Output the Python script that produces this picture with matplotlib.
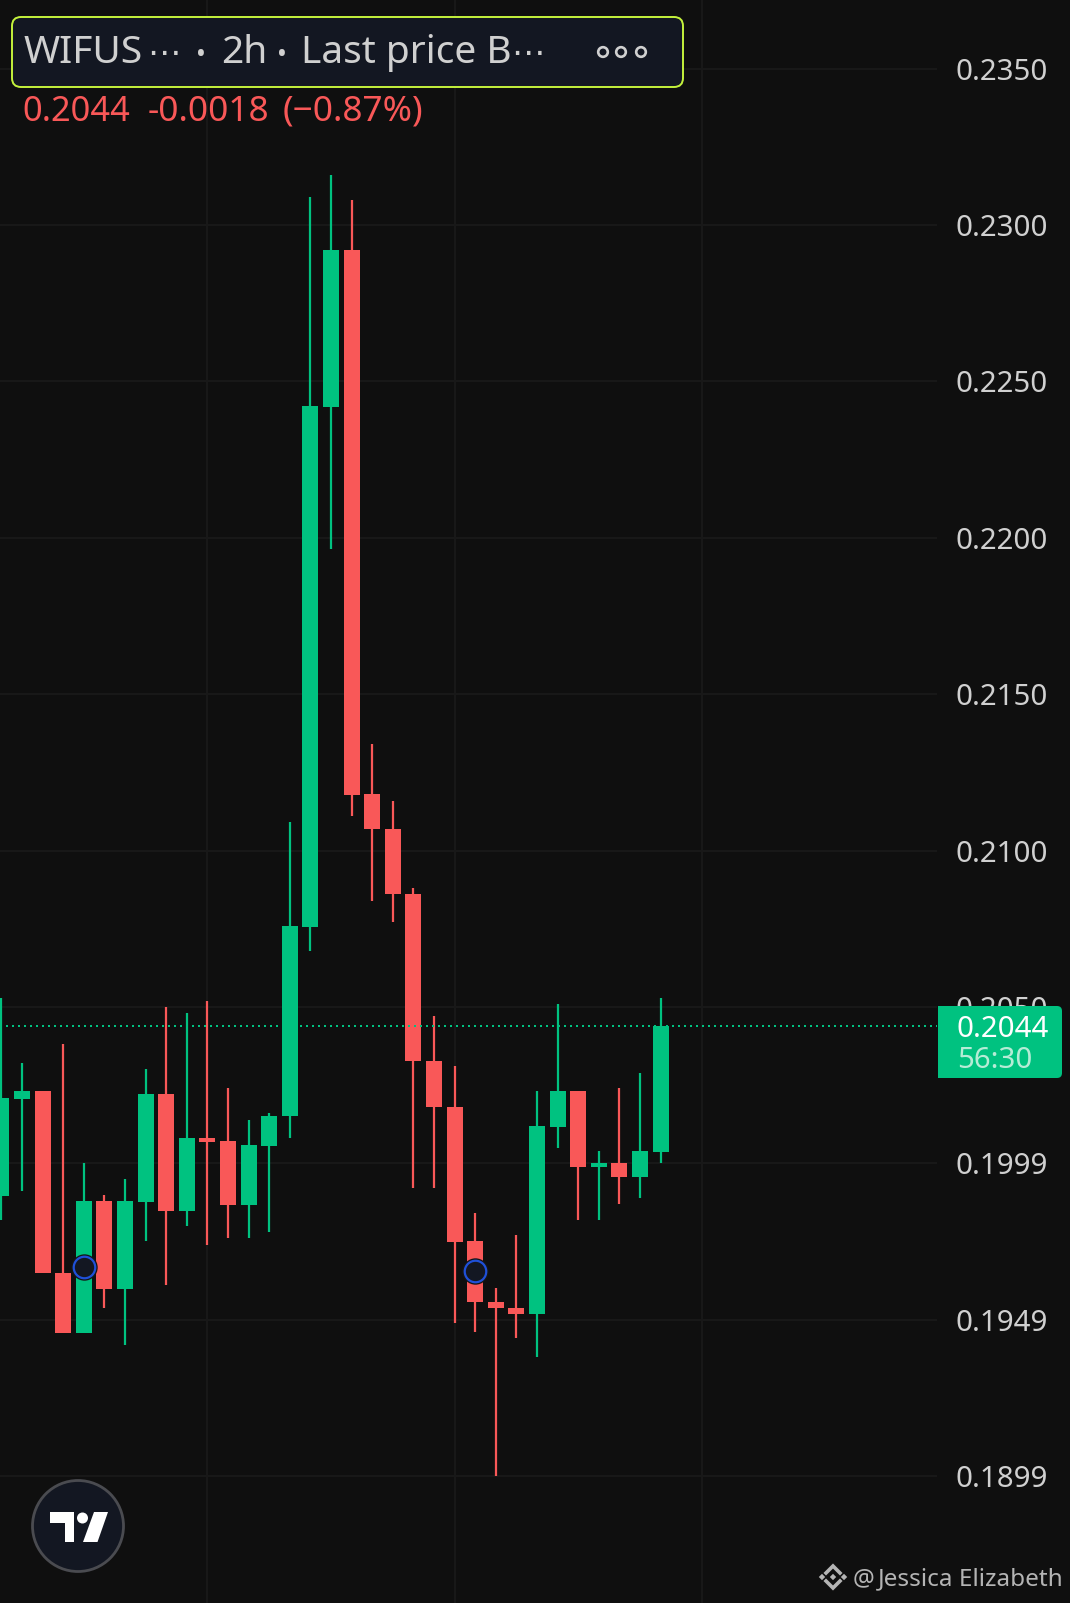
import numpy as np
from matplotlib import pyplot as plt
from matplotlib.patches import FancyBboxPatch, Circle, Polygon

plt.rcParams['font.family'] = ['Noto Sans', 'DejaVu Sans']

# candles
opens = [0.19896, 0.20206, 0.20231, 0.19648, 0.19458, 0.19880, 0.19598, 0.19877, 0.20222, 0.19848, 0.20081,
         0.20072, 0.19867, 0.20056, 0.20150, 0.20756, 0.22418, 0.22920, 0.21181, 0.21069, 0.20861, 0.20327,
         0.20179, 0.19752, 0.19558, 0.19539, 0.19519, 0.20116, 0.20231, 0.19988, 0.20001, 0.19957, 0.20036]
highs = [0.20529, 0.20321, 0.20231, 0.20382, 0.20001, 0.19899, 0.19950, 0.20302, 0.20500, 0.20481, 0.20519,
         0.20241, 0.20139, 0.20161, 0.21091, 0.23090, 0.23160, 0.23080, 0.21341, 0.21159, 0.20880, 0.20471,
         0.20311, 0.19841, 0.19602, 0.19771, 0.20231, 0.20510, 0.20231, 0.20040, 0.20241, 0.20289, 0.20529]
lows = [0.19819, 0.19912, 0.19648, 0.19458, 0.19458, 0.19539, 0.19419, 0.19752, 0.19611, 0.19800, 0.19739,
        0.19761, 0.19761, 0.19781, 0.20081, 0.20679, 0.21964, 0.21111, 0.20839, 0.20772, 0.19921, 0.19921,
        0.19490, 0.19461, 0.19001, 0.19442, 0.19381, 0.20049, 0.19819, 0.19819, 0.19870, 0.19889, 0.20001]
closes = [0.20209, 0.20231, 0.19648, 0.19458, 0.19880, 0.19598, 0.19880, 0.20222, 0.19848, 0.20081, 0.20068,
          0.19867, 0.20059, 0.20150, 0.20759, 0.22421, 0.22920, 0.21178, 0.21069, 0.20861, 0.20327, 0.20179,
          0.19749, 0.19558, 0.19539, 0.19519, 0.20120, 0.20231, 0.19988, 0.20001, 0.19957, 0.20040, 0.20440]

# the axis is uneven below 0.2050, labels do not match the even spacing
tick_values = [0.2350, 0.2300, 0.2250, 0.2200, 0.2150, 0.2100, 0.2050, 0.2000, 0.1950, 0.1900]
tick_labels = ['0.2350', '0.2300', '0.2250', '0.2200', '0.2150', '0.2100', '0.2050', '0.1999', '0.1949', '0.1899']
time_ticks = [10, 22, 34]

event_x = [4, 23]
event_y = [0.19669, 0.19656]
last_price = 0.2044

BG = '#0f0f0f'
GRID = '#181818'
UP = '#00c280'
DOWN = '#f95858'
TXT = '#d0d0d0'
PANEL = '#131722'

W, H = 1070, 1603
STEP = 20.6  # px per candle
AXW = 937
X0 = 1.4  # px of first candle

fig = plt.figure(figsize=(W / 100, H / 100), dpi=100, facecolor=BG)
ax = fig.add_axes([0, 0, AXW / W, 1], facecolor=BG)
ax.set_xlim(-X0 / STEP, (AXW - X0) / STEP)
ax.set_ylim(0.185946, 0.237193)

x = np.arange(len(opens))
o = np.array(opens)
c = np.array(closes)
cols = [UP if c[i] >= o[i] else DOWN for i in x]

ax.vlines(x, lows, highs, colors=cols, linewidth=1.6, zorder=3)
ax.bar(x, np.abs(c - o), bottom=np.minimum(o, c), width=16 / STEP, color=cols, linewidth=0, zorder=4)

ax.axhline(last_price, color=UP, linewidth=1.44, linestyle=(0, (1, 2)), zorder=5)

ax.plot(event_x, event_y, 'o', ms=19, mfc='#151515', mec='none', zorder=6)
ax.plot(event_x, event_y, 'o', ms=15.5, mfc=PANEL, mec='#1f50d8', mew=1.6, zorder=7)

ax.set_yticks(tick_values)
ax.set_yticklabels(tick_labels)
ax.set_xticks(time_ticks)
ax.set_xticklabels([])
ax.yaxis.tick_right()
ax.tick_params(axis='both', length=0)
ax.tick_params(axis='y', pad=13.4, labelsize=21.2, labelcolor=TXT)
ax.grid(True, color=GRID, linewidth=1.5)
ax.set_axisbelow(True)
for s in ax.spines.values():
    s.set_visible(False)

# overlay in pixel coords for the app chrome
ov = fig.add_axes([0, 0, 1, 1])
ov.set_xlim(0, W)
ov.set_ylim(H, 0)
ov.axis('off')

ov.add_patch(FancyBboxPatch((12, 17), 671, 70, boxstyle='round,pad=0,rounding_size=9',
                            fc=PANEL, ec='#c4f23c', lw=1.4))
ov.text(24, 63, 'WIFUS', color=TXT, fontsize=28, va='baseline')
ov.text(147, 63, '\u22ef', color=TXT, fontsize=24, va='baseline', family='DejaVu Sans')
ov.text(196, 63, '\u2022', color=TXT, fontsize=19, va='baseline')
ov.text(221, 63, '2h', color=TXT, fontsize=28, va='baseline')
ov.text(277, 63, '\u2022', color=TXT, fontsize=19, va='baseline')
ov.text(301, 63, 'Last price B', color=TXT, fontsize=28, va='baseline')
ov.text(511, 63, '\u22ef', color=TXT, fontsize=24, va='baseline', family='DejaVu Sans')
for cx in [603, 621, 641]:
    ov.add_patch(Circle((cx, 52), 4.8, fc='none', ec=TXT, lw=1.9))

ov.text(22, 121, '0.2044', color=DOWN, fontsize=24.8, va='baseline')
ov.text(148, 121, '-0.0018', color=DOWN, fontsize=25.4, va='baseline')
ov.text(283, 121, '(\u22120.87%)', color=DOWN, fontsize=25.4, va='baseline')

# price tag
ov.add_patch(FancyBboxPatch((938, 1006), 124, 72, boxstyle='round,pad=0,rounding_size=5', fc=UP, ec='none'))
ov.fill([938, 950, 950, 938], [1006, 1006, 1078, 1078], color=UP, lw=0)
ov.text(956, 1037, '0.2044', color='white', fontsize=21.2, va='baseline')
ov.text(957, 1068, '56:30', color='#b5ecd6', fontsize=21.2, va='baseline')

# logo
ov.add_patch(Circle((78, 1526), 45.5, fc=PANEL, ec='#4a4b50', lw=2))
ov.add_patch(Polygon([(50, 1512), (74, 1512), (74, 1542), (65, 1542), (65, 1523), (50, 1523)], fc='white', ec='none'))
ov.add_patch(Circle((82.5, 1518), 5.5, fc='white', ec='none'))
ov.add_patch(Polygon([(94, 1512), (108, 1512), (97.5, 1542), (83, 1542)], fc='white', ec='none'))

# watermark
WM = '#b4b4b4'
ov.text(853, 1585, '@', color=WM, fontsize=17.5, va='baseline')
ov.text(878, 1585, 'Jessica Elizabeth', color=WM, fontsize=17.5, va='baseline')
for dx, dy in [(-11, 0), (11, 0), (0, 0)]:
    r = 3.2
    ov.add_patch(Polygon([(833 + dx - r, 1577 + dy), (833 + dx, 1577 + dy - r), (833 + dx + r, 1577 + dy),
                          (833 + dx, 1577 + dy + r)], fc=WM, ec='none'))
ov.plot([826, 833, 840], [1573, 1566, 1573], color=WM, lw=2.6, solid_joinstyle='miter')
ov.plot([826, 833, 840], [1581, 1588, 1581], color=WM, lw=2.6, solid_joinstyle='miter')

plt.savefig('out.png', dpi=100, facecolor=BG)
